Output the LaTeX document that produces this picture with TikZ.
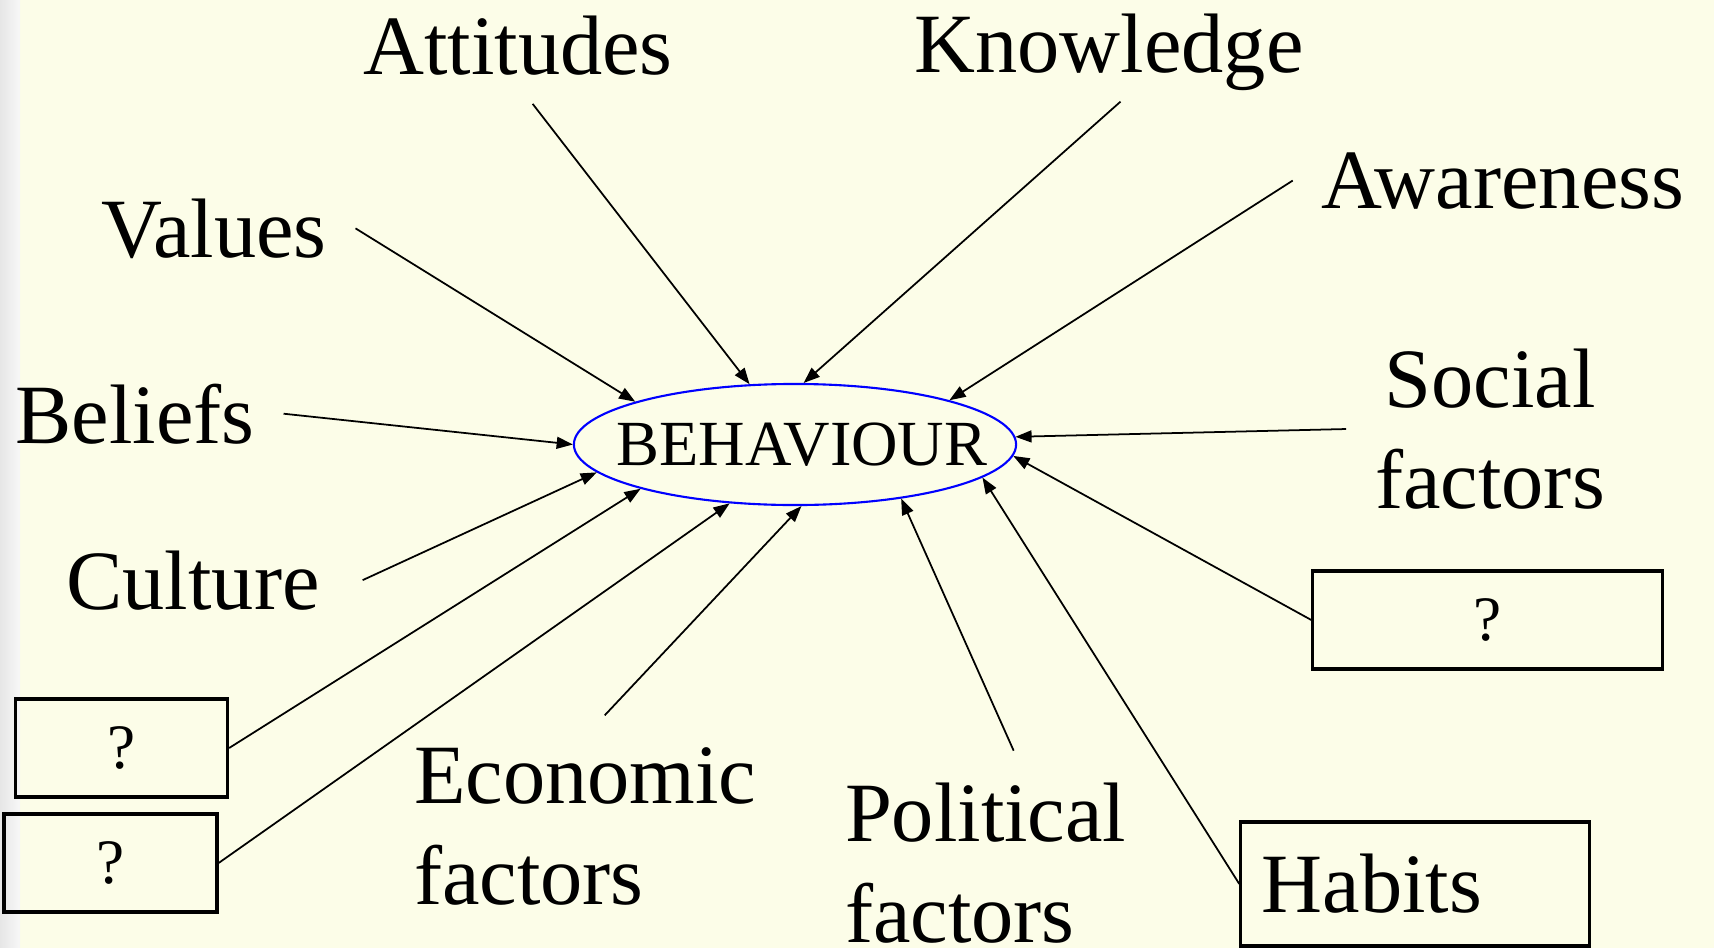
\documentclass[tikz,border=0pt]{standalone}
\usepackage{fontspec}
\setmainfont{Liberation Serif}
\usetikzlibrary{shapes.geometric,arrows.meta}
\definecolor{slide}{RGB}{252,253,232}
\definecolor{margin}{RGB}{230,230,230}

\begin{document}
\begin{tikzpicture}
		[x=0.01cm,y=-0.01cm,line width=0.5pt,
		 >={Triangle[length=4.6pt,width=3.4pt]}]
			\tikzstyle{lab}=[inner xsep=8pt,inner ysep=3pt,
		font=\fontsize{24}{28.5}\selectfont]
			\tikzstyle{qbox}=[draw,line width=0.9pt,minimum height=0.98cm,
		inner sep=0pt,font=\fontsize{18}{20}\selectfont]
		%-----background
		 \useasboundingbox (0,0) rectangle (1714,948);
		 \fill[slide] (0,0) rectangle (1714,948);
		 \shade[left color=margin,right color=white!97!black] (0,0) rectangle (20,948);
		%-----centre
		 \node[draw=blue,ellipse,line width=0.6pt,inner xsep=-0.36cm,inner ysep=0pt,
		 minimum height=1.21cm,font=\fontsize{18.3}{20}\selectfont]
		 (beh) at (795,444.5) {\hspace{4pt}BEHAVIOUR};
		%-----labels
		 \node[lab,inner ysep=8pt,anchor=base]  (att) at (518,74) {Attitudes};
		 \node[lab,anchor=base]  (know) at (1109,72) {Knowledge};
		 \node[lab,anchor=base]  (val) at (214,257) {Values};
		 \node[lab,anchor=base]  (aw) at (1503,208) {Awareness};
		 \node[lab,anchor=base]  (bel) at (135,443) {Beliefs};
		 \node[lab,inner xsep=12pt,anchor=base]  (cul) at (193,609) {Culture};
		 \node[lab,anchor=base,align=center]  (soc) at (1490,508) {Social\\factors};
		 \node[lab,inner ysep=9pt,anchor=base west,align=left]  (eco) at (385,904) {Economic\\factors};
		 \node[lab,inner ysep=9pt,anchor=base west,align=left]  (pol) at (816,942) {Political\\factors};
		%-----boxes
		 \node[qbox,minimum width=2.12cm]  (qa) at (121.5,748) {?};
		 \node[qbox,minimum width=2.13cm]  (qb) at (110.5,863) {?};
		 \node[qbox,minimum width=3.49cm]  (qc) at (1487.5,620) {?\hspace{15pt}};
		 \node[qbox,minimum width=3.48cm,minimum height=1.24cm,text width=3.06cm,
		 align=left,font=\fontsize{24}{28.5}\selectfont]  (hab) at (1415,884) {Habits};

		 \foreach \from/\to in {att.-76/beh.127,know.-77/beh.82,val.east/beh.165,
		 aw.west/beh.16,bel.east/beh.180,soc.west/beh.2,cul.east/beh.-172,
		 qa.east/beh.-164,qb.east/beh.-138,eco.80/beh.-84,pol.76/beh.-27,
		 hab.west/beh.-10,qc.west/beh.-3}
		 \draw[->] (\from) -- (\to);

			\end{tikzpicture}
\end{document}
